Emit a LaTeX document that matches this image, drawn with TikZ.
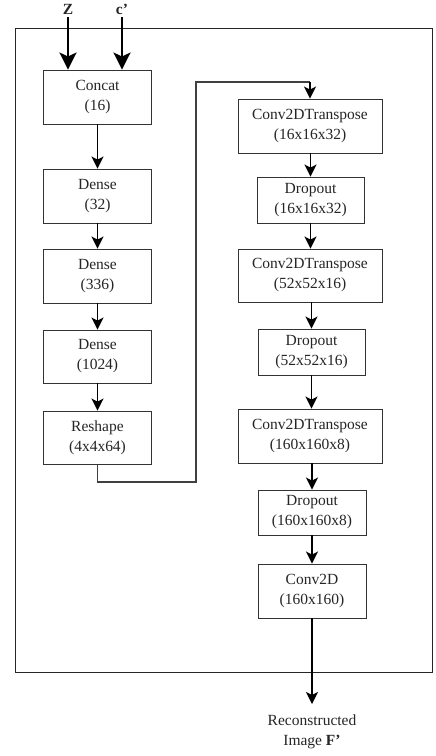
\documentclass[tikz,border=0pt]{standalone}
\usepackage{fontspec}
\setmainfont{Liberation Serif}
\usetikzlibrary{arrows.meta}
\tikzset{
  layer/.style={draw=black!80, line width=0.9pt, inner sep=0pt, align=center,
    text=black!85, font=\fontsize{15.5}{20}\selectfont},
  flowtip/.tip={Stealth[length=12pt,width=12pt,inset=3pt]},
  intip/.tip={Stealth[length=17pt,width=17pt,inset=4pt]},
  flow/.style={line width=1.6pt, -flowtip},
  inflow/.style={line width=2.8pt, -intip},
  lbl/.style={inner sep=0pt, align=center, text=black!85, font=\fontsize{15.5}{20}\selectfont}
}
\begin{document}
\begin{tikzpicture}[x=1pt,y=1pt]
\useasboundingbox (0,0) rectangle (436,-756);
\fill[white] (0,0) rectangle (436,-756);

% outer frame
\draw[black!85, line width=0.9pt] (15,-28) rectangle (432,-672);

% left column
\node[layer, minimum width=108pt, minimum height=54pt] (concat) at (97.5,-97) {Concat\\(16)};
\node[layer, minimum width=108pt, minimum height=54pt] (d1) at (97.5,-196) {Dense\\(32)};
\node[layer, minimum width=108pt, minimum height=54pt] (d2) at (97.5,-276) {Dense\\(336)};
\node[layer, minimum width=108pt, minimum height=53pt] (d3) at (97.5,-356.5) {Dense\\(1024)};
\node[layer, minimum width=108pt, minimum height=53pt] (rs) at (97.5,-437.5) {Reshape\\(4x4x64)};

% right column
\node[layer, minimum width=144pt, minimum height=54pt] (ct1) at (310,-126) {Conv2DTranspose\\(16x16x32)};
\node[layer, minimum width=107pt, minimum height=46pt] (do1) at (310.5,-200) {Dropout\\(16x16x32)};
\node[layer, minimum width=144pt, minimum height=53pt] (ct2) at (310,-275.5) {Conv2DTranspose\\(52x52x16)};
\node[layer, minimum width=107pt, minimum height=46pt] (do2) at (311.5,-352) {Dropout\\(52x52x16)};
\node[layer, minimum width=144pt, minimum height=54pt] (ct3) at (310,-436) {Conv2DTranspose\\(160x160x8)};
\node[layer, minimum width=108pt, minimum height=45pt] (do3) at (312,-512.5) {Dropout\\(160x160x8)};
\node[layer, minimum width=108pt, minimum height=54pt] (c2d) at (312,-591) {Conv2D\\(160x160)};

% inputs
\node[lbl, font=\fontsize{15.5}{20}\selectfont\bfseries] (z) at (68,-9) {Z};
\node[lbl, font=\fontsize{15.5}{20}\selectfont\bfseries] (c) at (122,-9) {c'};
\coordinate (zs) at (68,-17);
\coordinate (cs) at (122,-17);
\draw[inflow] (zs) -- (zs |- concat.north);
\draw[inflow] (cs) -- (cs |- concat.north);

% output label
\node[lbl] (out) at (312,-732) {Reconstructed\\Image \textbf{F'}};

% connectors
\draw[flow] (concat) -- (d1);
\draw[flow] (d1) -- (d2);
\draw[flow] (d2) -- (d3);
\draw[flow] (d3) -- (rs);
\coordinate (b1) at (97.5,-482);
\coordinate (b2) at (196,-482);
\coordinate (b3) at (196,-82);
\coordinate (b4) at (310,-82);
\draw[line width=1.8pt, black!75, line join=miter] (rs.south) -- (b1) -- (b2) -- (b3) -- (b4);
\draw[flow] (b4) -- (ct1.north);
\draw[flow] (ct1.south -| do1) -- (do1);
\draw[flow] (do1) -- (do1 |- ct2.north);
\draw[flow] (ct2.south -| do2) -- (do2);
\draw[flow] (do2.south) -- (do2.south |- ct3.north);
\draw[flow] (ct3.south -| do3) -- (do3);
\draw[flow] (do3) -- (c2d);
\coordinate (oe) at (312,-704);
\draw[flow] (c2d) -- (oe);
\end{tikzpicture}
\end{document}
